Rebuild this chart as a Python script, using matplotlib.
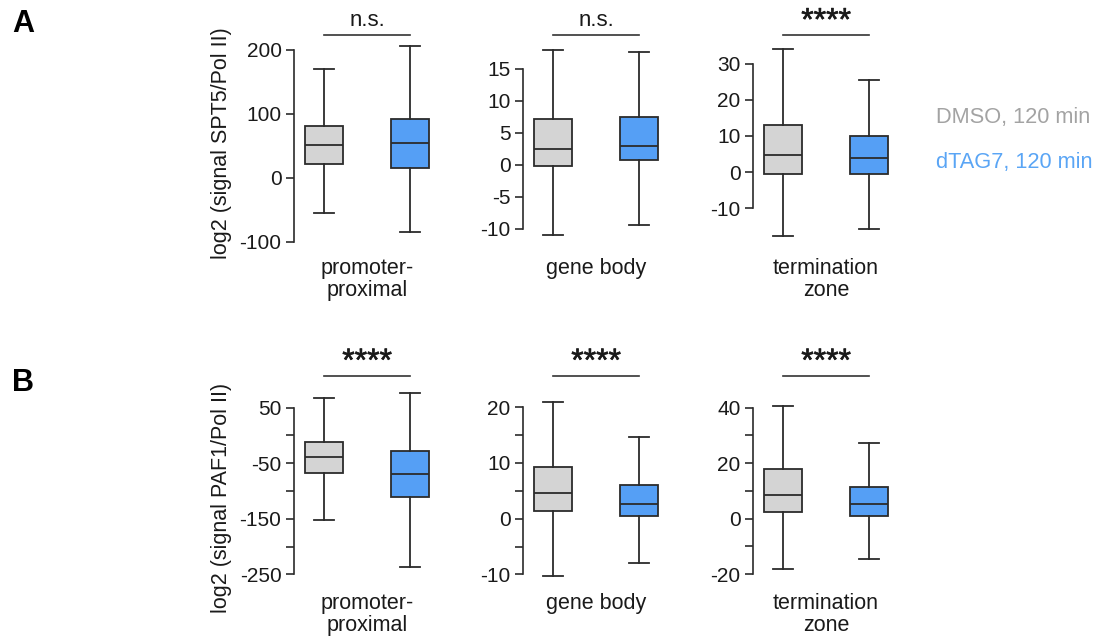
import matplotlib
matplotlib.use("Agg")
import matplotlib.pyplot as plt
import matplotlib.patheffects as pe
from matplotlib.ticker import MultipleLocator

plt.rcParams['font.family'] = ['Liberation Sans', 'DejaVu Sans']

# box statistics: whislo, q1, med, q3, whishi
regions = ['promoter-\nproximal', 'gene body', 'termination\nzone']
conditions = ['DMSO, 120 min', 'dTAG7, 120 min']

spt5_dmso = [[-55, 22, 51, 81, 170], [-11, -0.2, 2.5, 7.1, 18], [-17.6, -0.6, 4.8, 13.1, 34]]
spt5_dtag = [[-84, 16, 55, 92, 207], [-9.4, 0.8, 3.0, 7.5, 17.7], [-15.7, -0.4, 3.9, 9.9, 25.4]]
paf1_dmso = [[-152, -68, -39, -11, 67], [-10.3, 1.3, 4.6, 9.3, 21], [-18, 2.4, 8.6, 17.8, 40.7]]
paf1_dtag = [[-236, -110, -69, -27, 77], [-8.0, 0.4, 2.7, 6.1, 14.7], [-14.6, 1.0, 5.4, 11.5, 27.3]]

spt5_sig = ['n.s.', 'n.s.', '****']
paf1_sig = ['****', '****', '****']

spt5_ticks = [[-100, 0, 100, 200], [-10, -5, 0, 5, 10, 15], [-10, 0, 10, 20, 30]]
paf1_ticks = [[-250, -150, -50, 50], [-10, 0, 10, 20], [-20, 0, 20, 40]]
paf1_minor = [50, 5, 10]
spt5_ylim = [(-104.7, 215.6), (-12.5, 19.5), (-20.1, 36.5)]
paf1_ylim = [(-259.9, 90.8), (-11.0, 24.0), (-22.1, 48.1)]

colors = ['#d4d4d4', '#559ff5']
text_colors = ['#a3a3a3', '#5aa5f5']
edge = '#2b2b2b'
ink = '#1a1a1a'

W, H = 1096, 642
fig = plt.figure(figsize=(W / 100, H / 100), dpi=100)

lefts = [294, 523, 753]
ax_w = 146


def stats(v):
    return dict(whislo=v[0], q1=v[1], med=v[2], q3=v[3], whishi=v[4], fliers=[])


def panel(ax, dmso, dtag, sig, ticks, ylim, region, minor=None, line_y=1.025):
    ax.bxp([stats(dmso), stats(dtag)], positions=[1, 2], widths=0.45, capwidths=0.23,
           patch_artist=True, showfliers=False,
           boxprops=dict(edgecolor=edge, linewidth=1.3),
           medianprops=dict(color=edge, linewidth=1.3),
           whiskerprops=dict(color=edge, linewidth=1.3),
           capprops=dict(color=edge, linewidth=1.3))
    for patch, c in zip(ax.patches, colors):
        patch.set_facecolor(c)
    ax.set_xlim(0.65, 2.35)
    ax.set_ylim(*ylim)
    ax.set_yticks(ticks)
    ax.set_yticklabels([str(t) for t in ticks])
    if minor:
        ax.yaxis.set_minor_locator(MultipleLocator(minor))
    ax.spines[['top', 'right', 'bottom']].set_visible(False)
    ax.spines['left'].set_bounds(ticks[0], ticks[-1])
    ax.spines['left'].set_color(edge)
    ax.spines['left'].set_linewidth(1.2)
    ax.set_xticks([])
    ax.tick_params(axis='y', which='both', length=5.5, width=1.2, color=edge,
                   labelsize=15, labelcolor=ink, pad=3.5)
    ax.plot([1, 2], [line_y, line_y], color='#333333', lw=1.2,
            transform=ax.get_xaxis_transform(), clip_on=False)
    if sig == 'n.s.':
        ax.annotate(sig, xy=(1.5, line_y), xycoords=('data', 'axes fraction'),
                    xytext=(0, 9), textcoords='offset pixels',
                    ha='center', va='baseline', fontsize=16, color=ink)
    else:
        ax.annotate(sig, xy=(1.5, line_y), xycoords=('data', 'axes fraction'),
                    xytext=(0, 5), textcoords='offset pixels',
                    ha='center', va='baseline', fontsize=23, color=ink,
                    path_effects=[pe.withStroke(linewidth=0.45, foreground=ink)])
    ax.annotate(region, xy=(1.5, 0), xycoords=('data', 'axes fraction'),
                xytext=(0, -13), textcoords='offset pixels', ha='center', va='top',
                fontsize=15.5, color=ink, linespacing=1.05)


rows = [
    (40, 245, spt5_dmso, spt5_dtag, spt5_sig, spt5_ticks, spt5_ylim, [None] * 3, 1.024),
    (385, 580, paf1_dmso, paf1_dtag, paf1_sig, paf1_ticks, paf1_ylim, paf1_minor, 1.048),
]
for top, bottom, dm, dt, sg, tk, yl, mn, ly in rows:
    for i in range(3):
        ax = fig.add_axes([lefts[i] / W, 1 - bottom / H, ax_w / W, (bottom - top) / H])
        panel(ax, dm[i], dt[i], sg[i], tk[i], yl[i], regions[i], mn[i], ly)

fig.text(221 / W, 1 - 143 / H, 'log2 (signal SPT5/Pol II)', rotation=90,
         ha='center', va='center', fontsize=15.5, color=ink)
fig.text(221 / W, 1 - 498 / H, 'log2 (signal PAF1/Pol II)', rotation=90,
         ha='center', va='center', fontsize=15.5, color=ink)
fig.text(12 / W, 1 - 24 / H, 'A', fontsize=22, fontweight='bold', va='center')
fig.text(12 / W, 1 - 383 / H, 'B', fontsize=22, fontweight='bold', va='center')

for y, txt, c in zip([118, 162.5], conditions, text_colors):
    fig.text(936 / W, 1 - y / H, txt, color=c, fontsize=15.7, va='center', ha='left')

fig.savefig('out.png', dpi=100)
